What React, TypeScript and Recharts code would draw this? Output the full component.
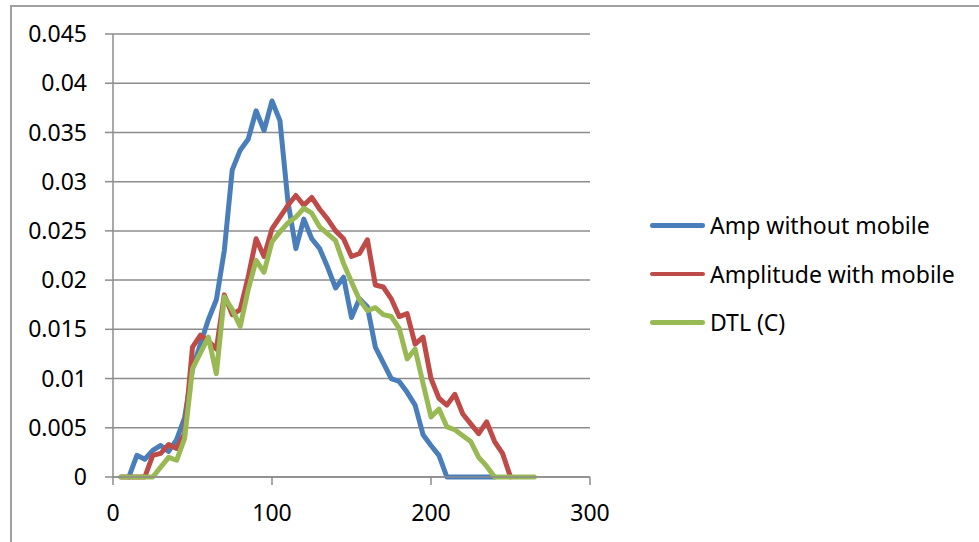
import React from 'react'
import { LineChart, Line, XAxis, YAxis, CartesianGrid } from 'recharts'

// ---- data ----
const blueX = [10, 15, 20, 25, 30, 35, 40, 45, 50, 55, 60, 65, 70, 75, 80, 85, 90, 95, 100, 105, 110, 115, 120, 125, 130, 135, 140, 145, 150, 155, 160, 165, 170, 175, 180, 185, 190, 195, 200, 205, 210, 215, 220, 225, 230, 235, 240]
const blueY = [0, 0.0022, 0.0018, 0.0027, 0.0032, 0.0026, 0.0038, 0.006, 0.011, 0.0135, 0.016, 0.018, 0.023, 0.0312, 0.0332, 0.0343, 0.0372, 0.0352, 0.0382, 0.0362, 0.028, 0.0232, 0.0262, 0.0242, 0.0232, 0.0213, 0.0192, 0.0203, 0.0162, 0.0181, 0.0173, 0.0132, 0.0116, 0.01, 0.0097, 0.0086, 0.0073, 0.0043, 0.0032, 0.0022, 0, 0, 0, 0, 0, 0, 0]

const redX = [5, 10, 15, 20, 25, 30, 35, 40, 45, 50, 55, 60, 65, 70, 75, 80, 85, 90, 95, 100, 105, 110, 115, 120, 125, 130, 135, 140, 145, 150, 155, 160, 165, 170, 175, 180, 185, 190, 195, 200, 205, 210, 215, 220, 225, 230, 235, 240, 245, 250]
const redY = [0, 0, 0, 0, 0.0022, 0.0024, 0.0033, 0.0029, 0.0044, 0.0132, 0.0144, 0.0138, 0.013, 0.0185, 0.0165, 0.017, 0.0203, 0.0242, 0.0224, 0.0252, 0.0264, 0.0276, 0.0286, 0.0276, 0.0284, 0.0272, 0.0262, 0.025, 0.0242, 0.0224, 0.0227, 0.0241, 0.0195, 0.0193, 0.0181, 0.0163, 0.0166, 0.0135, 0.0142, 0.01, 0.008, 0.0073, 0.0084, 0.0064, 0.0054, 0.0044, 0.0056, 0.0036, 0.0024, 0]

const greenX = [5, 10, 15, 20, 25, 30, 35, 40, 45, 50, 55, 60, 65, 70, 75, 80, 85, 90, 95, 100, 105, 110, 115, 120, 125, 130, 135, 140, 145, 150, 155, 160, 165, 170, 175, 180, 185, 190, 195, 200, 205, 210, 215, 220, 225, 230, 235, 240, 245, 250, 255, 260, 265]
const greenY = [0, 0, 0, 0, 0, 0.001, 0.002, 0.0017, 0.0039, 0.011, 0.0126, 0.0142, 0.0105, 0.0183, 0.017, 0.0153, 0.019, 0.022, 0.0208, 0.0239, 0.0249, 0.0258, 0.0264, 0.0273, 0.0268, 0.0254, 0.0247, 0.024, 0.0217, 0.0198, 0.018, 0.0169, 0.0172, 0.0165, 0.0163, 0.0151, 0.012, 0.013, 0.0095, 0.0061, 0.0069, 0.0051, 0.0048, 0.0042, 0.0036, 0.002, 0.0011, 0, 0, 0, 0, 0, 0]

const xTicks = [0, 100, 200, 300]
const yTicks = [0, 0.005, 0.01, 0.015, 0.02, 0.025, 0.03, 0.035, 0.04, 0.045]

const series = [
  { name: 'Amp without mobile', color: '#4A7EBB', xs: blueX, ys: blueY },
  { name: 'Amplitude with mobile', color: '#BE4B48', xs: redX, ys: redY },
  { name: 'DTL (C)', color: '#98B954', xs: greenX, ys: greenY },
]

const FONT = '"Noto Sans", sans-serif'
const GRID = '#8c8c8c'

const toPoints = (xs: number[], ys: number[]) => xs.map((x, i) => ({ x, y: ys[i] }))

export default function App() {
  return (
    <div style={{ position: 'fixed', left: 0, top: 0, width: 979, height: 542, overflow: 'hidden', background: '#fff', fontFamily: FONT }}>
      <div style={{ position: 'absolute', left: 10, top: 5, width: 1000, height: 600, border: '2px solid #a0a0a0', boxSizing: 'border-box' }} />
      <div style={{ position: 'absolute', left: 0, top: 0 }}>
        <LineChart width={979} height={542} margin={{ top: 34, right: 389, bottom: 35, left: 0 }}>
          <CartesianGrid vertical={false} stroke={GRID} strokeWidth={1.5} />
          <XAxis
            type="number"
            dataKey="x"
            domain={[0, 300]}
            ticks={xTicks}
            height={30}
            tickSize={8}
            tickMargin={20}
            stroke={GRID}
            strokeWidth={1.5}
            tick={{ fill: '#000', fontSize: 23, fontFamily: FONT }}
            allowDuplicatedCategory={false}
          />
          <YAxis
            type="number"
            domain={[0, 0.045]}
            ticks={yTicks}
            width={113}
            tickSize={8}
            tickMargin={18}
            stroke={GRID}
            strokeWidth={1.5}
            tick={{ fill: '#000', fontSize: 23, fontFamily: FONT }}
            tickFormatter={(v: number) => String(v)}
          />
          {series.map((s) => (
            <Line
              key={s.name}
              data={toPoints(s.xs, s.ys)}
              dataKey="y"
              name={s.name}
              type="linear"
              stroke={s.color}
              strokeWidth={5}
              strokeLinejoin="round"
              strokeLinecap="round"
              dot={false}
              activeDot={false}
              isAnimationActive={false}
            />
          ))}
        </LineChart>
      </div>
      <div style={{ position: 'absolute', left: 650, top: 201 }}>
        {series.map((s) => (
          <div key={s.name} style={{ display: 'flex', alignItems: 'center', height: 48.5 }}>
            <div style={{ width: 55, height: 4.5, borderRadius: 2.25, background: s.color, marginRight: 5 }} />
            <span style={{ fontSize: 23, color: '#000', lineHeight: '48.5px', whiteSpace: 'nowrap' }}>{s.name}</span>
          </div>
        ))}
      </div>
    </div>
  )
}
